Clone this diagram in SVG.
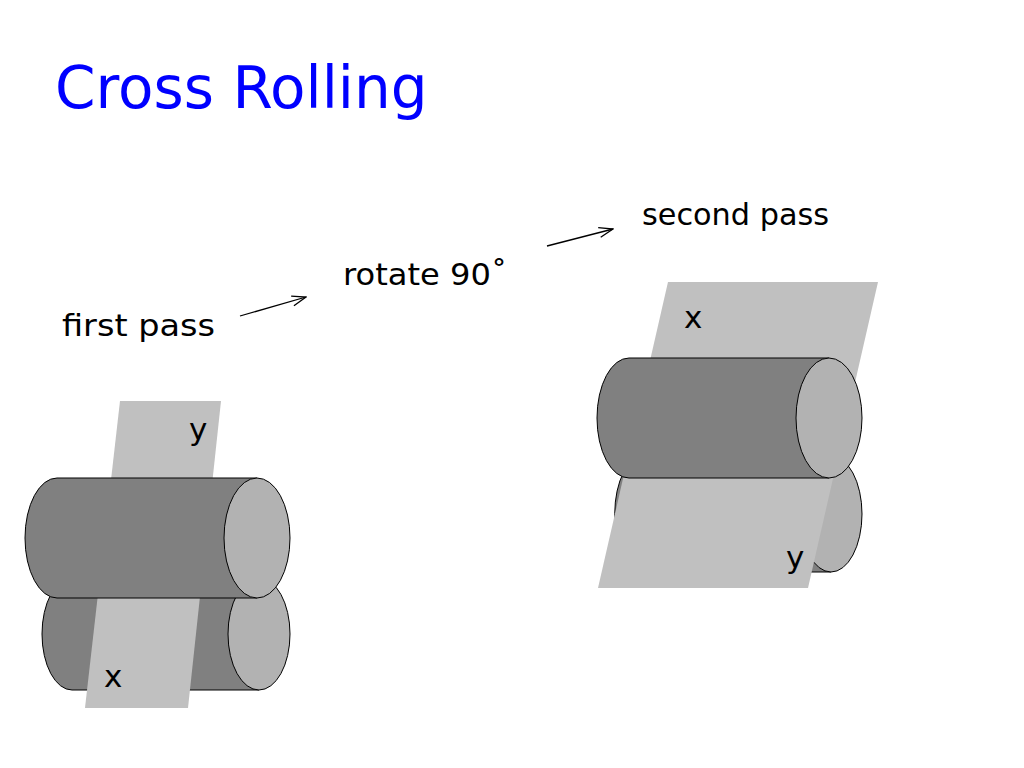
<svg xmlns="http://www.w3.org/2000/svg" width="1024" height="768" viewBox="0 0 1024 768">
<style>
.body{fill:#808080;stroke:#000;stroke-width:1}
.cap{fill:#b2b2b2;stroke:#000;stroke-width:1}
.sheet{fill:#c0c0c0;stroke:none}
.t{font-family:"DejaVu Sans",sans-serif;font-size:31px;fill:#000}
.c{stroke:#000;stroke-width:1.3;fill:none}
</style>
<defs><marker id="ah" markerWidth="16" markerHeight="12" refX="15" refY="6" orient="auto" markerUnits="userSpaceOnUse"><path d="M1,1 L15,6 L1,11" fill="none" stroke="#000" stroke-width="1.3"/></marker></defs>
<rect width="1024" height="768" fill="#fff"/>
<text x="55" y="108" style="font-family:'DejaVu Sans',sans-serif;font-size:58px;fill:#0000ff">Cross Rolling</text>
<g id="left-bottom-roller"><path class="body" d="M259,578 L72,578 A30,56 0 0 0 72,690 L259,690 Z"/><ellipse class="cap" cx="259" cy="634" rx="31" ry="56"/></g>
<g id="left-sheet"><polygon class="sheet" points="120,401 221,401 188,708 85,708"/></g>
<g id="left-top-roller"><path class="body" d="M257,478 L57,478 A32,60 0 0 0 57,598 L257,598 Z"/><ellipse class="cap" cx="257" cy="538" rx="33" ry="60"/></g>
<g id="right-bottom-roller"><path class="body" d="M831,455 L645,455 A30,58 0 0 0 645,572 L831,572 Z"/><ellipse class="cap" cx="831" cy="514" rx="31" ry="58"/></g>
<g id="right-sheet"><polygon class="sheet" points="668,282 878,282 808,588 598,588"/></g>
<g id="right-top-roller"><path class="body" d="M829,358 L629,358 A32,60 0 0 0 629,478 L829,478 Z"/><ellipse class="cap" cx="829" cy="418" rx="33" ry="60"/></g>
<text class="t" x="189" y="440">y</text>
<text class="t" x="104" y="687">x</text>
<text class="t" x="684" y="328">x</text>
<text class="t" x="786" y="568">y</text>
<text class="t" x="62" y="336" textLength="153" lengthAdjust="spacingAndGlyphs">first pass</text>
<text class="t" x="343" y="285" textLength="164" lengthAdjust="spacingAndGlyphs">rotate 90˚</text>
<text class="t" x="642" y="225" textLength="187" lengthAdjust="spacingAndGlyphs">second pass</text>
<g id="connectors"><line class="c" x1="240" y1="316" x2="306" y2="297" marker-end="url(#ah)"/><line class="c" x1="547" y1="246" x2="613" y2="229" marker-end="url(#ah)"/></g>
</svg>
